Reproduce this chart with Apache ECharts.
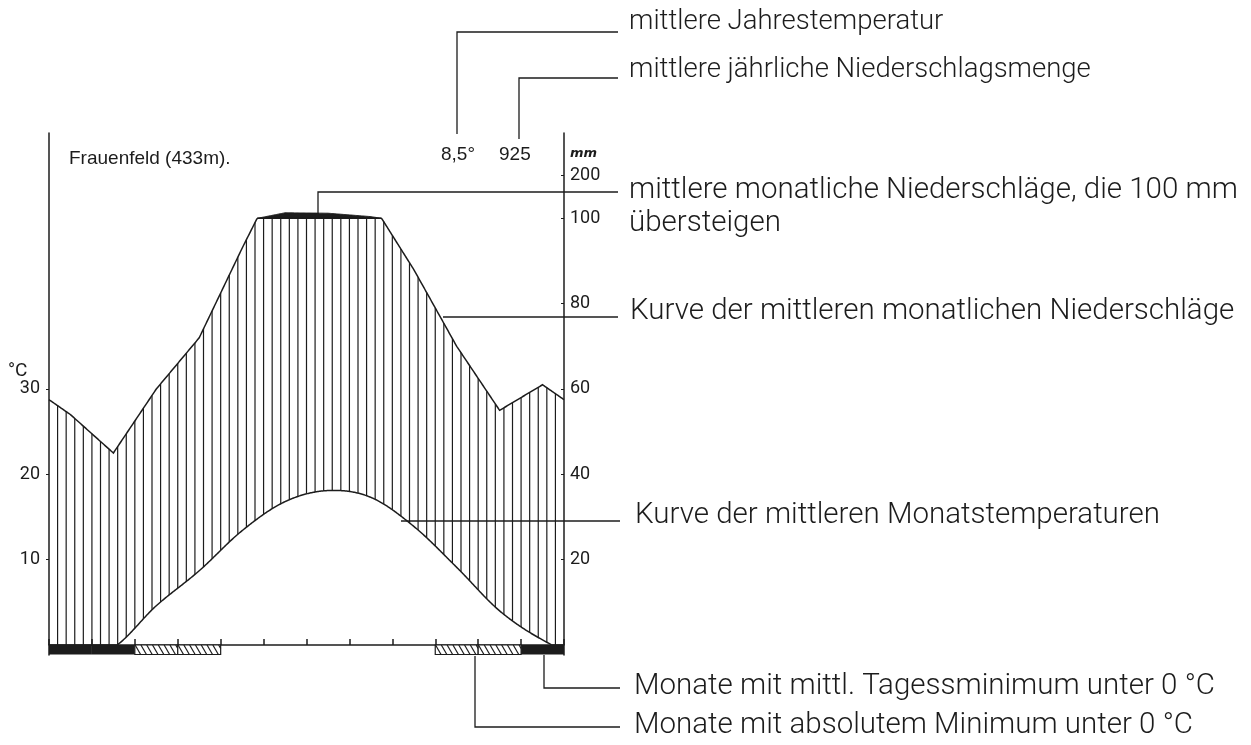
<!DOCTYPE html>
<html><head><meta charset="utf-8">
<script src="https://cdn.jsdelivr.net/npm/echarts@6/dist/echarts.min.js"></script>
<style>html,body{margin:0;padding:0;background:#fff}#c{width:1251px;height:745px}</style>
</head><body><div id="c"></div>
<script>
// ---------------- data ----------------
const station = 'Frauenfeld (433m).';
const annualTemp = '8,5°';
const annualPrecip = '925';
const months = ['Jan', 'Feb', 'Mär', 'Apr', 'Mai', 'Jun', 'Jul', 'Aug', 'Sep', 'Okt', 'Nov', 'Dez'];
const temperature = [-1.5, -0.3, 4.6, 8.7, 13.4, 16.8, 18.1, 17.3, 13.9, 9.1, 4.0, 0.6];   // °C
const precipitation = [54, 45, 60, 72, 93, 113, 112, 104, 88, 70, 55, 61];                 // mm
const meanMinBelowZero = ['Jan', 'Feb', 'Dez'];          // black bar
const absMinBelowZero = ['Mär', 'Apr', 'Okt', 'Nov'];    // hatched bar
const tempTicks = [10, 20, 30];
const precipTicks = [20, 40, 60, 80, 100, 200];
const notes = [
  'mittlere Jahrestemperatur',
  'mittlere jährliche Niederschlagsmenge',
  'mittlere monatliche Niederschläge, die 100 mm',
  'übersteigen',
  'Kurve der mittleren monatlichen Niederschläge',
  'Kurve der mittleren Monatstemperaturen',
  'Monate mit mittl. Tagessminimum unter 0 °C',
  'Monate mit absolutem Minimum unter 0 °C'
];

// ---------------- helpers ----------------
const INK = '#1c1c1c';
const Y_MIN = -10 / 8.5333;     // room for the frost bars below 0
const N = 12;
const wrap = (arr, k) => arr[((k % N) + N) % N];
// precipitation (mm) -> temperature-axis units (Walter–Lieth: 20 mm = 10 °C, above 100 mm 1:10)
const mmToAxis = mm => mm <= 100 ? mm / 2 : 50 + (mm - 100) / 20;
const axisToMm = v => v <= 50 ? v * 2 : 100 + (v - 50) * 20;

function tempAt(x) {          // cubic (Catmull-Rom) through month centres
  const u = x - 0.5, i = Math.floor(u), t = u - i;
  const p0 = wrap(temperature, i - 1), p1 = wrap(temperature, i), p2 = wrap(temperature, i + 1), p3 = wrap(temperature, i + 2);
  const m1 = (p2 - p0) / 2, m2 = (p3 - p1) / 2, t2 = t * t, t3 = t2 * t;
  return (2 * t3 - 3 * t2 + 1) * p1 + (t3 - 2 * t2 + t) * m1 + (-2 * t3 + 3 * t2) * p2 + (t3 - t2) * m2;
}
function precipAt(x) {        // straight segments between month centres
  const u = x - 0.5, i = Math.floor(u), t = u - i;
  return wrap(precipitation, i) * (1 - t) + wrap(precipitation, i + 1) * t;
}
const STEP = 0.02;
const samples = [];
for (let s = 0; s <= N / STEP; s++) samples.push(+(s * STEP).toFixed(4));
const hatchX = [];
for (let k = 1; k < N * 5; k++) hatchX.push(k / 5);

const frostBars = [];
months.forEach((m, i) => {
  if (meanMinBelowZero.includes(m)) frostBars.push([i, 0]);
  else if (absMinBelowZero.includes(m)) frostBars.push([i, 1]);
});

// ---------------- chart ----------------
const chart = echarts.init(document.getElementById('c'), null, { renderer: 'canvas' });
const labelFont = "'Liberation Sans Narrow', 'Roboto', sans-serif";
const titleFont = "'Liberation Sans', 'Roboto', sans-serif";
const noteFont = "'Roboto', 'Liberation Sans', sans-serif";

const note = (x, y, size, text) => ({
  type: 'text', left: x, top: y, silent: true,
  style: { text, fill: INK, font: "300 " + size + "px " + noteFont, textVerticalAlign: 'top' }
});
const leader = pts => ({ type: 'polyline', silent: true, shape: { points: pts }, style: { stroke: INK, lineWidth: 1.3, fill: null } });

chart.setOption({
  backgroundColor: '#fff',
  animation: false,
  title: {
    text: station, left: 64, top: 144,
    textStyle: { fontFamily: titleFont, fontWeight: 'normal', fontSize: 19, color: INK }
  },
  grid: { left: 49, right: 687, top: 133, bottom: 90 },
  xAxis: {
    type: 'value', min: 0, max: 12, interval: 1,
    axisLine: { show: true, onZero: true, lineStyle: { color: INK, width: 1.5 } },
    axisTick: { show: true, inside: true, length: 6, lineStyle: { color: INK, width: 1.5 } },
    axisLabel: { show: false }, splitLine: { show: false }
  },
  yAxis: [
    {
      type: 'value', min: Y_MIN, max: 60, position: 'left',
      axisLine: { show: true, onZero: false, lineStyle: { color: INK, width: 1.5 } },
      axisTick: { show: true, length: 3, customValues: tempTicks, lineStyle: { color: INK } },
      axisLabel: { customValues: tempTicks, margin: 9, fontFamily: labelFont, fontSize: 18, color: INK },
      splitLine: { show: false }
    },
    {
      type: 'value', min: Y_MIN, max: 60, position: 'right',
      axisLine: { show: true, onZero: false, lineStyle: { color: INK, width: 1.5 } },
      axisTick: { show: true, inside: true, length: 3, customValues: precipTicks.map(mmToAxis), lineStyle: { color: INK } },
      axisLabel: {
        customValues: precipTicks.map(mmToAxis).concat([57.6]), margin: 6,
        fontFamily: labelFont, fontSize: 18, color: INK,
        formatter: v => v > 56 ? '{u|mm}' : String(Math.round(axisToMm(v))),
        rich: { u: { fontFamily: 'DejaVu Sans', fontWeight: 'bold', fontStyle: 'italic', fontSize: 13, color: INK } }
      },
      splitLine: { show: false }
    }
  ],
  series: [
    { // humid period: vertical hatching between temperature and precipitation curves
      type: 'custom', name: 'humid', z: 1, silent: true,
      data: hatchX.map(x => [x]),
      renderItem: (params, api) => {
        const x = api.value(0);
        const lo = Math.max(0, tempAt(x));
        const hi = Math.min(precipAt(x), 100) / 2;
        if (hi <= lo) return null;
        const a = api.coord([x, lo]), b = api.coord([x, hi]);
        return { type: 'line', shape: { x1: a[0], y1: a[1], x2: b[0], y2: b[1] }, style: { stroke: INK, lineWidth: 1.2 } };
      }
    },
    { // precipitation curve and the part above 100 mm (1:10, black)
      type: 'custom', name: 'Niederschlag', z: 3, silent: true,
      data: [[0]],
      renderItem: (params, api) => {
        const line = samples.map(x => api.coord([x, Math.min(precipAt(x), 100) / 2]));
        const top = [], bottom = [];
        samples.forEach(x => {
          const p = precipAt(x);
          if (p > 100) { top.push(api.coord([x, mmToAxis(p)])); bottom.unshift(api.coord([x, 50])); }
        });
        const children = [{ type: 'polyline', shape: { points: line }, style: { stroke: INK, lineWidth: 1.5, fill: null } }];
        if (top.length) children.push({ type: 'polygon', shape: { points: top.concat(bottom) }, style: { fill: INK, stroke: INK, lineWidth: 1 } });
        return { type: 'group', children };
      }
    },
    { // temperature curve
      type: 'custom', name: 'Temperatur', z: 3, silent: true,
      data: [[0]],
      renderItem: (params, api) => ({
        type: 'polyline',
        shape: { points: samples.map(x => api.coord([x, Math.max(0, tempAt(x))])) },
        style: { stroke: INK, lineWidth: 1.5, fill: null }
      })
    },
    { // frost months
      type: 'custom', name: 'Frost', z: 4, silent: true,
      data: frostBars,
      renderItem: (params, api) => {
        const i = api.value(0), kind = api.value(1);
        const p0 = api.coord([i, 0]), p1 = api.coord([i + 1, Y_MIN]);
        const x0 = p0[0], x1 = p1[0], t = p0[1], b = p1[1] - 0.5;
        if (kind === 0) return { type: 'rect', shape: { x: x0, y: t, width: x1 - x0, height: b - t }, style: { fill: INK } };
        const children = [{ type: 'rect', shape: { x: x0, y: t, width: x1 - x0, height: b - t }, style: { fill: '#fff', stroke: INK, lineWidth: 1.2 } }];
        const h = b - t, dx = 5.5, gap = 5.8;
        for (let xs = x0 - dx; xs < x1; xs += gap) {
          let sx = xs, sy = t, ex = xs + dx, ey = b;
          if (sx < x0) { sy = t + (x0 - xs) / dx * h; sx = x0; }
          if (ex > x1) { ey = t + (x1 - xs) / dx * h; ex = x1; }
          if (ex > sx) children.push({ type: 'line', shape: { x1: sx, y1: sy, x2: ex, y2: ey }, style: { stroke: INK, lineWidth: 1.2 } });
        }
        return { type: 'group', children };
      }
    }
  ],
  graphic: [
    { type: 'text', left: 8, top: 362, silent: true, style: { text: '°C', fill: INK, font: "19px " + labelFont } },
    { type: 'text', left: 441, top: 145, silent: true, style: { text: annualTemp, fill: INK, font: "19px " + titleFont } },
    { type: 'text', left: 499, top: 145, silent: true, style: { text: annualPrecip, fill: INK, font: "19px " + titleFont } },
    leader([[457, 134], [457, 32], [618, 32]]),
    leader([[519, 139], [519, 78], [618, 78]]),
    leader([[318, 213], [318, 192], [618, 192]]),
    leader([[443, 317], [618, 317]]),
    leader([[401, 521], [620, 521]]),
    leader([[544, 655], [544, 688], [620, 688]]),
    leader([[475, 656], [475, 727], [620, 727]]),
    note(629, 8, 27.5, notes[0]),
    note(629, 56, 27.5, notes[1]),
    note(629, 176, 29.5, notes[2]),
    note(629, 209, 29.5, notes[3]),
    note(630, 297, 29.5, notes[4]),
    note(635, 501, 29.5, notes[5]),
    note(634, 672, 29.5, notes[6]),
    note(634, 711, 29.5, notes[7])
  ]
});
</script></body></html>
